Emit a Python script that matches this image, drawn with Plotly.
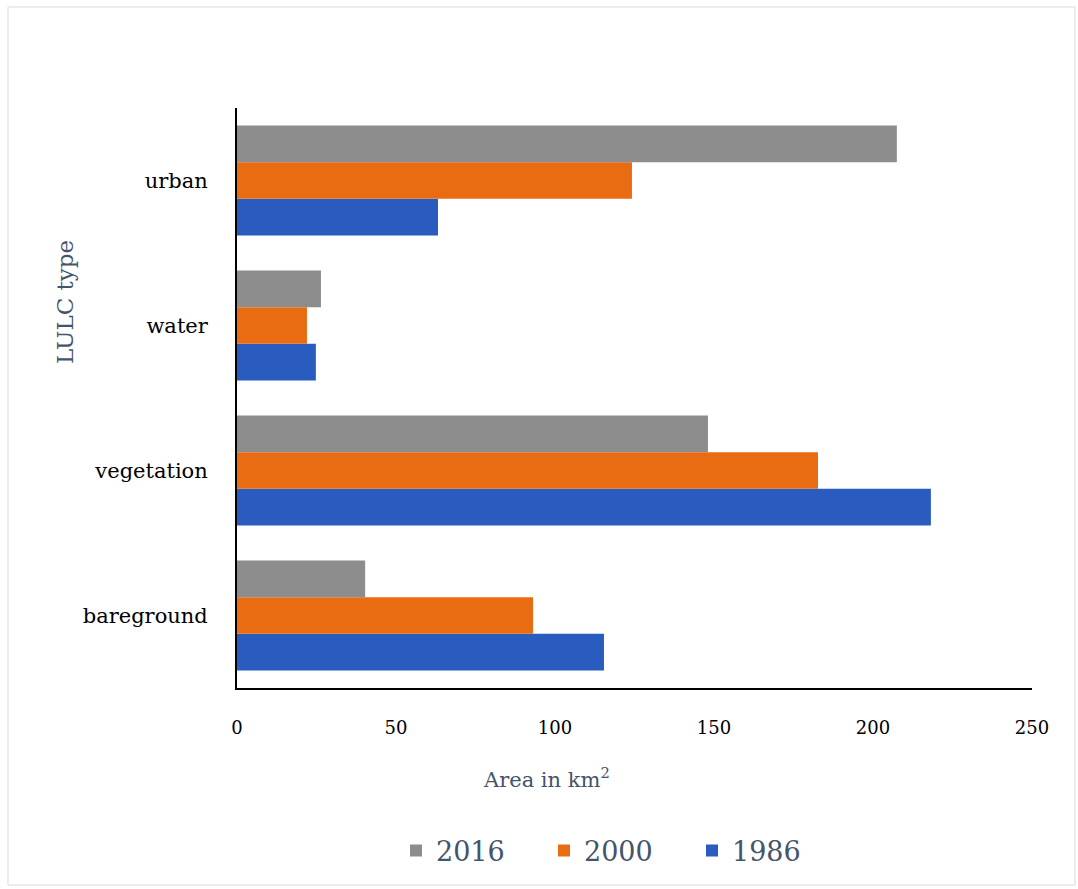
import plotly.graph_objects as go

categories = ["bareground", "vegetation", "water", "urban"]
years = ["1986", "2000", "2016"]
values_1986 = [115.4, 218.2, 24.8, 63.2]
values_2000 = [93.1, 182.7, 22.0, 124.2]
values_2016 = [40.3, 148.1, 26.4, 207.5]
x_ticks = [0, 50, 100, 150, 200, 250]

colors = {"1986": "#2a5cc0", "2000": "#ea6c12", "2016": "#8d8d8d"}
series = {"1986": values_1986, "2000": values_2000, "2016": values_2016}

FONT = "DejaVu Serif, Liberation Serif, serif"
TITLE_COLOR = "#44546a"

fig = go.Figure()
for y in years:
    fig.add_trace(go.Bar(
        y=categories, x=series[y], name=y, orientation="h",
        marker=dict(color=colors[y], line=dict(width=0)),
    ))

fig.update_layout(
    width=1078, height=889,
    margin=dict(l=237, r=46, t=108, b=201),
    paper_bgcolor="white", plot_bgcolor="white",
    barmode="group", bargap=0.24, bargroupgap=0,
    font=dict(family=FONT, color="black"),
    showlegend=True,
    legend=dict(
        orientation="h", traceorder="reversed",
        x=(618 - 237) / 795, xanchor="center", y=-(851 - 688) / 580, yanchor="middle",
        font=dict(family=FONT, size=27, color=TITLE_COLOR),
        itemwidth=30, entrywidth=103,
    ),
    xaxis=dict(
        range=[0, 250], tickvals=x_ticks, showgrid=False, zeroline=False,
        showline=True, linecolor="black", linewidth=2,
        ticks="", tickfont=dict(family=FONT, size=18, color="black"),
        ticklabelstandoff=22,
    ),
    yaxis=dict(
        showgrid=False, zeroline=False, showline=True, linecolor="black",
        linewidth=2, ticks="", tickfont=dict(family=FONT, size=21, color="black"),
        ticklabelstandoff=23,
    ),
    annotations=[
        dict(text="Area in km<sup>2</sup>", xref="paper", yref="paper",
             x=(546 - 237) / 795, y=-(778 - 688) / 580, xanchor="center", yanchor="middle",
             showarrow=False, font=dict(family=FONT, size=21, color=TITLE_COLOR)),
        dict(text="LULC type", xref="paper", yref="paper", textangle=-90,
             x=-(237 - 65) / 795, y=(688 - 302) / 580, xanchor="center", yanchor="middle",
             showarrow=False, font=dict(family=FONT, size=23, color=TITLE_COLOR)),
    ],
    shapes=[
        dict(type="rect", xref="paper", yref="paper",
             x0=-(237 - 8) / 795, x1=(1075 - 237) / 795,
             y0=-(885 - 688) / 580, y1=(688 - 7) / 580,
             line=dict(color="#d9d9d9", width=1), layer="below"),
    ],
)

fig.write_html("out.html")
